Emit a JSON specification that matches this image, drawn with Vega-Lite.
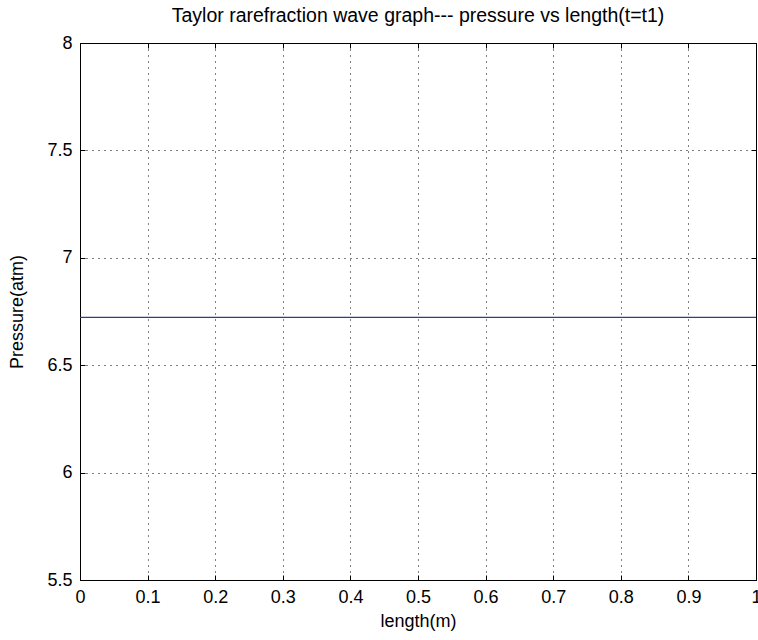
{
  "$schema": "https://vega.github.io/schema/vega-lite/v6.json",
  "autosize": {"type": "none"},
  "padding": {"left": 80, "top": 43, "right": 2, "bottom": 60},
  "width": 676,
  "height": 537,
  "background": "white",
  "title": {
    "text": "Taylor rarefraction wave graph--- pressure vs length(t=t1)",
    "font": "Liberation Sans",
    "fontSize": 19.5,
    "fontWeight": "normal",
    "color": "#000000",
    "anchor": "middle",
    "offset": 8
  },
  "config": {
    "view": {"stroke": "#000000", "strokeWidth": 1},
    "axis": {
      "domainColor": "#000000",
      "tickColor": "#000000",
      "tickSize": -5,
      "gridColor": "#000000",
      "gridDash": [1, 5],
      "gridOpacity": 1,
      "gridWidth": 1,
      "labelFont": "Liberation Sans",
      "labelFontSize": 18,
      "labelColor": "#000000",
      "titleFont": "Liberation Sans",
      "titleFontSize": 18,
      "titleFontWeight": "normal",
      "titleColor": "#000000"
    }
  },
  "data": {
    "values": [
      {"length": 0, "pressure": 6.723},
      {"length": 0.5, "pressure": 6.723},
      {"length": 1, "pressure": 6.723}
    ]
  },
  "layer": [
    {
      "mark": {"type": "line", "color": "#2b3d96", "strokeWidth": 1.2},
      "encoding": {
        "x": {
          "field": "length",
          "type": "quantitative",
          "scale": {"domain": [0, 1], "nice": false},
          "axis": {
            "title": "length(m)",
            "values": [0, 0.1, 0.2, 0.3, 0.4, 0.5, 0.6, 0.7, 0.8, 0.9, 1],
            "format": "~g",
            "labelPadding": 13,
            "titlePadding": 6,
            "labelFlush": false
          }
        },
        "y": {
          "field": "pressure",
          "type": "quantitative",
          "scale": {"domain": [5.5, 8], "nice": false, "zero": false},
          "axis": {
            "title": "Pressure(atm)",
            "values": [5.5, 6, 6.5, 7, 7.5, 8],
            "format": "~g",
            "labelPadding": 13,
            "titlePadding": 20,
            "labelFlush": false
          }
        }
      }
    },
    {
      "mark": {"type": "line", "opacity": 0},
      "encoding": {
        "x": {
          "field": "length",
          "type": "quantitative",
          "axis": {
            "orient": "top",
            "title": null,
            "labels": false,
            "grid": false,
            "domain": false,
            "values": [0, 0.1, 0.2, 0.3, 0.4, 0.5, 0.6, 0.7, 0.8, 0.9, 1]
          }
        },
        "y": {
          "field": "pressure",
          "type": "quantitative",
          "axis": {
            "orient": "right",
            "title": null,
            "labels": false,
            "grid": false,
            "domain": false,
            "values": [5.5, 6, 6.5, 7, 7.5, 8]
          }
        }
      }
    }
  ],
  "resolve": {"axis": {"x": "independent", "y": "independent"}}
}
